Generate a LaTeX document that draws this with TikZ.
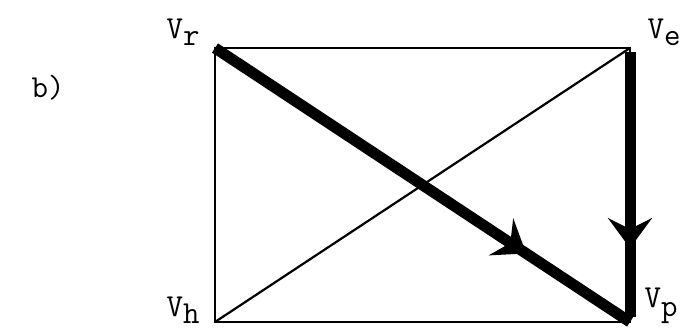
\documentclass[tikz,border=0pt]{standalone}
\usepackage{fontspec}
\usetikzlibrary{arrows.meta,decorations.markings}
\begin{document}
\begin{tikzpicture}[x=1pt,y=-1pt,
  thin line/.style={line width=2.2pt},
  thick line/.style={line width=11pt},
  lbl/.style={font=\ttfamily\fontsize{32}{34}\selectfont, inner sep=0pt},
  midarrow/.style={postaction={decorate},decoration={markings,
     mark=at position #1 with {\arrow{Stealth[length=30pt,width=44pt,inset=11pt]}}}}]
\useasboundingbox (0,0) rectangle (694,333);
\coordinate (r) at (215,48);
\coordinate (e) at (630,48);
\coordinate (h) at (215,322);
\coordinate (p) at (630,322);
\draw[thin line] (r) -- (e) -- (p) -- (h) -- cycle;
\draw[thin line] (h) -- (e);
\draw[thick line, line cap=butt, midarrow=0.75] (r) -- (p);
\draw[thick line, midarrow=0.74] ([yshift=-4pt]e) -- ([yshift=5pt]p);
\node[lbl] (b) at (48,88) {b)};
\node[lbl] (lr) at (183,32) {V\raisebox{-7pt}{r}};
\node[lbl] (le) at (664,32) {V\raisebox{-7pt}{e}};
\node[lbl] (lh) at (183,310) {V\raisebox{-7pt}{h}};
\node[lbl] (lp) at (661,306) {V\raisebox{-9pt}{p}};
\end{tikzpicture}
\end{document}
